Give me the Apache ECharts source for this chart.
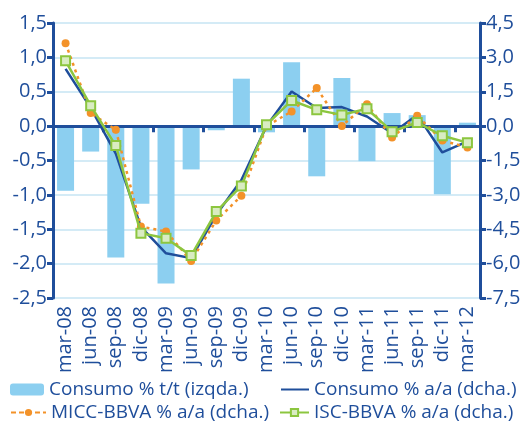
<!DOCTYPE html>
<html lang="es">

<head>
  <meta charset="UTF-8">
  <title>Consumo</title>
  <script src="https://cdn.jsdelivr.net/npm/echarts@6/dist/echarts.min.js"></script>
  <style>
    html,
    body {
      padding: 0;
      margin: 0;
      background: #fff;
    }

    #chart {
      height: 430px;
      width: 530px;
    }
  </style>
</head>

<body>
  <div id="chart"></div>
  <script>
    const quarters = ['mar-08', 'jun-08', 'sep-08', 'dic-08', 'mar-09', 'jun-09', 'sep-09', 'dic-09',
      'mar-10', 'jun-10', 'sep-10', 'dic-10', 'mar-11', 'jun-11', 'sep-11', 'dic-11', 'mar-12']
    // % t/t (eje izquierdo)
    const consumoTT = [-0.94, -0.37, -1.91, -1.13, -2.29, -0.63, -0.06, 0.69,
      -0.09, 0.93, -0.73, 0.70, -0.51, 0.19, 0.16, -0.99, 0.05]
    // % a/a (eje derecho)
    const consumoAA = [2.5, 0.8, -1.2, -4.4, -5.55, -5.76, -3.87, -2.35,
      0.0, 1.51, 0.79, 0.83, 0.42, -0.31, 0.49, -1.15, -0.67]
    const miccAA = [3.62, 0.57, -0.16, -4.38, -4.6, -5.88, -4.12, -3.04,
      0.0, 0.64, 1.66, 0.01, 0.96, -0.5, 0.45, -0.63, -0.93]
    const iscAA = [2.85, 0.89, -0.85, -4.67, -4.89, -5.65, -3.73, -2.61,
      0.06, 1.12, 0.71, 0.49, 0.76, -0.24, 0.16, -0.42, -0.72]

    const navy = '#1f4e9b'
    const fontFam = 'Open Sans'
    const coma = v => v.toFixed(1).replace('.', ',')

    const chart = echarts.init(document.getElementById('chart'))
    const legendBase = {
      textStyle: { color: navy, fontSize: 19, fontFamily: fontFam },
      itemGap: 0,
      padding: 0,
      selectedMode: false
    }
    chart.setOption({
      animation: false,
      grid: { left: 53, right: 50, top: 23, bottom: 132, containLabel: false },
      legend: [
        Object.assign({}, legendBase, { data: ['Consumo % t/t (izqda.)'], left: 10, top: 380, itemWidth: 34, itemHeight: 12 }),
        Object.assign({}, legendBase, { data: ['Consumo % a/a (dcha.)'], left: 280, top: 380, itemWidth: 28, itemStyle: { opacity: 0 } }),
        Object.assign({}, legendBase, { data: ['MICC-BBVA % a/a (dcha.)'], left: 10, top: 403, itemWidth: 35, itemHeight: 9, lineStyle: { type: [5, 3] } }),
        Object.assign({}, legendBase, { data: ['ISC-BBVA % a/a (dcha.)'], left: 279, top: 403, itemWidth: 29, itemHeight: 9 })
      ],
      xAxis: [
        {
          type: 'category',
          data: quarters,
          axisLine: { onZero: true, onZeroAxisIndex: 0, lineStyle: { color: navy, width: 3 } },
          axisTick: { show: true, length: 6, lineStyle: { color: navy, width: 3 } },
          axisLabel: { show: false },
          z: 5
        },
        {
          type: 'category',
          data: quarters,
          position: 'bottom',
          axisLine: { show: false, onZero: false },
          axisTick: { show: false },
          axisLabel: {
            rotate: 90, interval: 0, margin: 8,
            color: navy, fontSize: 20, fontFamily: fontFam
          }
        }
      ],
      yAxis: [
        {
          type: 'value', min: -2.5, max: 1.5, interval: 0.5,
          axisLine: { show: true, lineStyle: { color: navy, width: 3 } },
          axisTick: { show: true, length: 6, lineStyle: { color: navy, width: 3 } },
          axisLabel: { color: navy, fontSize: 20, fontFamily: fontFam, margin: 6, formatter: coma },
          splitLine: { lineStyle: { color: '#c6e4f3', width: 1.5 } }
        },
        {
          type: 'value', min: -7.5, max: 4.5, interval: 1.5,
          position: 'right',
          axisLine: { show: true, lineStyle: { color: navy, width: 3 } },
          axisTick: { show: true, length: 6, lineStyle: { color: navy, width: 3 } },
          axisLabel: { color: navy, fontSize: 20, fontFamily: fontFam, margin: 6, formatter: coma },
          splitLine: { show: false }
        }
      ],
      series: [
        {
          name: 'Consumo % t/t (izqda.)',
          type: 'bar',
          data: consumoTT,
          xAxisIndex: 0, yAxisIndex: 0,
          barWidth: 17,
          itemStyle: { color: '#8ccff0' }
        },
        {
          name: 'Consumo % a/a (dcha.)',
          type: 'line',
          data: consumoAA,
          xAxisIndex: 0, yAxisIndex: 1,
          symbol: 'none',
          lineStyle: { color: navy, width: 2.5 },
          itemStyle: { color: navy },
          z: 6
        },
        {
          name: 'MICC-BBVA % a/a (dcha.)',
          type: 'line',
          data: miccAA,
          xAxisIndex: 0, yAxisIndex: 1,
          symbol: 'circle', symbolSize: 8,
          lineStyle: { color: '#f39229', width: 2.5, type: [3, 4] },
          itemStyle: { color: '#f39229' },
          z: 7
        },
        {
          name: 'ISC-BBVA % a/a (dcha.)',
          type: 'line',
          data: iscAA,
          xAxisIndex: 0, yAxisIndex: 1,
          symbol: 'rect', symbolSize: 9,
          lineStyle: { color: '#8cc63f', width: 2.5 },
          itemStyle: { color: '#d9ecc2', borderColor: '#8cc63f', borderWidth: 2 },
          z: 8
        }
      ]
    })
  </script>
</body>

</html>
